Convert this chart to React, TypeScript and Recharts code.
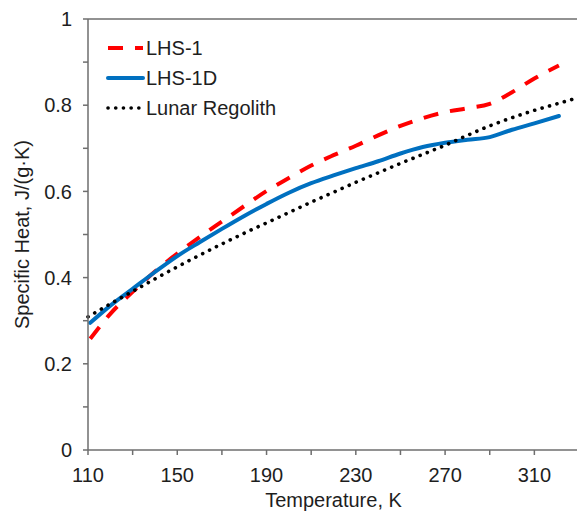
import { LineChart, Line, XAxis, YAxis, ReferenceLine, Legend } from "recharts";

// temperatures (K) sampled for the two simulants
const SAMPLE_TEMPS = [111, 120, 130, 140, 150, 160, 170, 180, 190, 200, 210, 220, 230, 240, 250, 260, 270, 280, 290, 300, 310, 321];
const LHS1 = [0.258, 0.316, 0.367, 0.414, 0.456, 0.494, 0.53, 0.566, 0.601, 0.631, 0.66, 0.684, 0.706, 0.73, 0.752, 0.77, 0.784, 0.793, 0.803, 0.83, 0.862, 0.892];
const LHS1D = [0.295, 0.335, 0.374, 0.413, 0.45, 0.482, 0.513, 0.543, 0.571, 0.597, 0.619, 0.637, 0.654, 0.67, 0.688, 0.703, 0.713, 0.72, 0.726, 0.743, 0.758, 0.775];

// lunar regolith reference curve
const LUNAR_TEMPS = [110, 120, 130, 140, 150, 160, 170, 180, 190, 200, 210, 220, 230, 240, 250, 260, 270, 280, 290, 300, 310, 320, 330];
const LUNAR = [0.309, 0.339, 0.368, 0.397, 0.425, 0.452, 0.478, 0.503, 0.527, 0.551, 0.575, 0.598, 0.621, 0.643, 0.665, 0.686, 0.707, 0.73, 0.752, 0.771, 0.788, 0.803, 0.818];

const X_TICKS = [110, 130, 150, 170, 190, 210, 230, 250, 270, 290, 310, 330];
const X_LABELS = [110, 150, 190, 230, 270, 310];
const Y_TICKS = [0, 0.1, 0.2, 0.3, 0.4, 0.5, 0.6, 0.7, 0.8, 0.9, 1];
const Y_LABELS: Record<number, string> = { 0: "0", 0.2: "0.2", 0.4: "0.4", 0.6: "0.6", 0.8: "0.8", 1: "1" };

const FONT = "'Liberation Sans', Arial, sans-serif";
const AXIS = "#6e6e6e";
const TEXT = "#1e1e1e";

const toPoints = (temps: number[], values: number[]) =>
  temps.map((t, i) => ({ t, v: values[i] }));

const SERIES = [
  { name: "LHS-1", data: toPoints(SAMPLE_TEMPS, LHS1), color: "#ff0000", dash: "15 12", width: 4, cap: "butt" },
  { name: "LHS-1D", data: toPoints(SAMPLE_TEMPS, LHS1D), color: "#0070c0", dash: undefined, width: 4, cap: "round" },
  { name: "Lunar Regolith", data: toPoints(LUNAR_TEMPS, LUNAR), color: "#000000", dash: "0.1 7.6", width: 3.6, cap: "round" },
];

function LegendBox() {
  return (
    <svg width={200} height={92}>
      {SERIES.map((s, i) => (
        <g key={s.name} transform={`translate(0, ${15 + i * 30})`}>
          <line
            x1={3}
            x2={38}
            y1={0}
            y2={0}
            stroke={s.color}
            strokeWidth={s.width}
            strokeDasharray={s.dash}
            strokeLinecap={s.cap as any}
          />
          <text x={41} y={0} dy="0.36em" fontSize={20} fontFamily={FONT} fill={TEXT}>
            {s.name}
          </text>
        </g>
      ))}
    </svg>
  );
}

export default function App() {
  return (
    <div style={{ position: "absolute", left: 0, top: 0, width: 577, height: 512, overflow: "hidden", background: "#fff" }}>
      <LineChart width={579} height={512} margin={{ top: 19, right: 0, bottom: 0, left: 0 }}>
        <XAxis
          dataKey="t"
          type="number"
          domain={[110, 330]}
          ticks={X_TICKS}
          interval={0}
          height={62}
          stroke={AXIS}
          strokeWidth={1.5}
          tickSize={5}
          tickMargin={13}
          tick={{ fill: TEXT, fontSize: 20, fontFamily: FONT }}
          tickFormatter={(v: number) => (X_LABELS.includes(v) ? String(v) : "")}
          label={{ value: "Temperature, K", position: "insideBottom", offset: 5, fill: TEXT, fontSize: 20, fontFamily: FONT }}
        />
        <YAxis
          type="number"
          domain={[0, 1]}
          ticks={Y_TICKS}
          interval={0}
          width={88}
          stroke={AXIS}
          strokeWidth={1.5}
          tickSize={5}
          tickMargin={11}
          tick={{ fill: TEXT, fontSize: 20, fontFamily: FONT }}
          tickFormatter={(v: number) => Y_LABELS[v] ?? ""}
          label={{
            value: "Specific Heat, J/(g·K)",
            angle: -90,
            position: "insideLeft",
            offset: 22,
            fill: TEXT,
            fontSize: 20,
            fontFamily: FONT,
            style: { textAnchor: "middle" },
          }}
        />
        <ReferenceLine y={1} stroke={AXIS} strokeWidth={1.5} />
        {SERIES.map((s) => (
          <Line
            key={s.name}
            data={s.data}
            dataKey="v"
            name={s.name}
            type="monotone"
            stroke={s.color}
            strokeWidth={s.width}
            strokeDasharray={s.dash}
            strokeLinecap={s.cap as any}
            dot={false}
            activeDot={false}
            isAnimationActive={false}
          />
        ))}
        <Legend
          layout="horizontal"
          verticalAlign="middle"
          align="center"
          content={() => <LegendBox />}
          wrapperStyle={{ left: 105, top: 33, width: 200 }}
        />
      </LineChart>
    </div>
  );
}
